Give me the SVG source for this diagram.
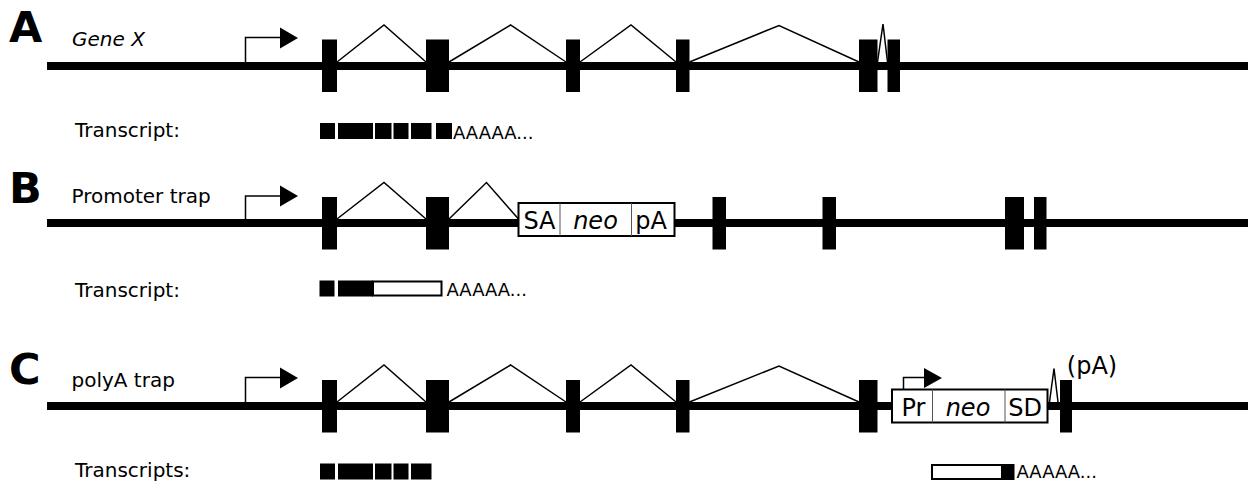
<svg xmlns="http://www.w3.org/2000/svg" width="1250" height="481" viewBox="0 0 1250 481">
  <style>
    .panel { font-family: "DejaVu Sans", "Liberation Sans", sans-serif; font-weight: bold; font-size: 43px; fill: #000; }
    .lbl { font-family: "DejaVu Sans", "Liberation Sans", sans-serif; font-size: 20px; fill: #000; }
    .it { font-style: italic; }
    .box { font-family: "DejaVu Sans", "Liberation Sans", sans-serif; font-size: 24px; fill: #000; text-anchor: middle; }
    .polyA { font-family: "DejaVu Sans", "Liberation Sans", sans-serif; font-size: 18px; fill: #000; }
    .dna { fill: #000; }
    .exon { fill: #000; }
    .intron { fill: none; stroke: #000; stroke-width: 1.5; stroke-linejoin: miter; }
    .prom { fill: none; stroke: #000; stroke-width: 1.5; }
    .cassette { fill: #fff; stroke: #000; stroke-width: 2; }
    .div { stroke: #555; stroke-width: 1; }
    .tx { fill: #000; }
    .txw { fill: #fff; stroke: #000; stroke-width: 2; }
  </style>

  <!-- Panel A: wild-type gene -->
  <g id="panelA">
    <text class="panel" x="9" y="41.5">A</text>
    <text class="lbl it" x="72" y="46">Gene X</text>
    <rect class="dna" x="47" y="62" width="1201" height="8"/>
    <g id="A-promoter">
      <path class="prom" d="M245.5 62 V37.5 H282"/>
      <polygon points="280,27.5 298,38 280,48.5"/>
    </g>
    <g id="A-exons">
      <rect class="exon" x="322" y="39.5" width="15" height="52.5"/>
      <rect class="exon" x="426" y="39.5" width="23" height="52.5"/>
      <rect class="exon" x="566" y="39.5" width="14" height="52.5"/>
      <rect class="exon" x="676" y="39.5" width="13.5" height="52.5"/>
      <rect class="exon" x="859" y="39.5" width="18.5" height="52.5"/>
      <rect class="exon" x="887.5" y="39.5" width="12.5" height="52.5"/>
    </g>
    <text class="lbl" x="75" y="137">Transcript:</text>
    <g id="A-transcript">
      <rect class="tx" x="320" y="123" width="15" height="16"/>
      <rect class="tx" x="338" y="123" width="35" height="16"/>
      <rect class="tx" x="375" y="123" width="16.5" height="16"/>
      <rect class="tx" x="393.5" y="123" width="15" height="16"/>
      <rect class="tx" x="411" y="123" width="20.5" height="16"/>
      <rect class="tx" x="436" y="123" width="16" height="16"/>
      <text class="polyA" x="453" y="139">AAAAA...</text>
    </g>
  </g>

  <!-- Panel B: promoter trap -->
  <g id="panelB">
    <text class="panel" x="9" y="202.5">B</text>
    <text class="lbl" x="71.5" y="203">Promoter trap</text>
    <rect class="dna" x="47" y="219" width="1201" height="8"/>
    <g id="B-promoter">
      <path class="prom" d="M245.5 219 V196 H282"/>
      <polygon points="280,185.5 298,196 280,206.5"/>
    </g>
    <g id="B-exons">
      <rect class="exon" x="322" y="197" width="15" height="52.5"/>
      <rect class="exon" x="426" y="197" width="23" height="52.5"/>
      <rect class="exon" x="712.5" y="197" width="13.5" height="52.5"/>
      <rect class="exon" x="822.5" y="197" width="13.5" height="52.5"/>
      <rect class="exon" x="1005" y="197" width="19" height="52.5"/>
      <rect class="exon" x="1034" y="197" width="12.5" height="52.5"/>
    </g>
    <g id="B-cassette">
      <rect class="cassette" x="518.5" y="203" width="156" height="33"/>
      <line class="div" x1="560" y1="203" x2="560" y2="236"/>
      <line class="div" x1="631.5" y1="203" x2="631.5" y2="236"/>
      <text class="box" x="539.5" y="228.5">SA</text>
      <text class="box it" x="595.5" y="228.5">neo</text>
      <text class="box" x="651" y="228.5">pA</text>
    </g>
    <text class="lbl" x="75" y="296.5">Transcript:</text>
    <g id="B-transcript">
      <rect class="tx" x="319.5" y="280.5" width="15" height="16"/>
      <rect class="tx" x="338" y="280.5" width="35" height="16"/>
      <rect class="txw" x="373" y="281.5" width="68.5" height="14"/>
      <text class="polyA" x="446.5" y="296">AAAAA...</text>
    </g>
  </g>

  <!-- Panel C: polyA trap -->
  <g id="panelC">
    <text class="panel" x="9" y="383.5">C</text>
    <text class="lbl" x="71.5" y="386.5">polyA trap</text>
    <rect class="dna" x="47" y="402" width="1201" height="8"/>
    <g id="C-promoter">
      <path class="prom" d="M245.5 402 V377.5 H282"/>
      <polygon points="280,367.5 298,378 280,388.5"/>
    </g>
    <g id="C-exons">
      <rect class="exon" x="322" y="380" width="15" height="52.5"/>
      <rect class="exon" x="426" y="380" width="23" height="52.5"/>
      <rect class="exon" x="566" y="380" width="14" height="52.5"/>
      <rect class="exon" x="676" y="380" width="13.5" height="52.5"/>
      <rect class="exon" x="859" y="380" width="18.5" height="52.5"/>
      <rect class="exon" x="1060" y="380" width="12" height="52.5"/>
    </g>
    <g id="C-cassette">
      <rect class="cassette" x="892" y="389.5" width="155.5" height="33"/>
      <line class="div" x1="932.5" y1="389.5" x2="932.5" y2="422.5"/>
      <line class="div" x1="1005" y1="389.5" x2="1005" y2="422.5"/>
      <text class="box" x="913.5" y="415.5">Pr</text>
      <text class="box it" x="968" y="415.5">neo</text>
      <text class="box" x="1025" y="415.5">SD</text>
      <path class="prom" d="M903.5 389.5 V377.5 H926"/>
      <polygon points="924,368 942,378 924,388"/>
    </g>
    <text class="box" x="1092" y="374">(pA)</text>
    <text class="lbl" x="75" y="476.5">Transcripts:</text>
    <g id="C-transcript1">
      <rect class="tx" x="320" y="463.5" width="15" height="16"/>
      <rect class="tx" x="338" y="463.5" width="35" height="16"/>
      <rect class="tx" x="375" y="463.5" width="16.5" height="16"/>
      <rect class="tx" x="393.5" y="463.5" width="15" height="16"/>
      <rect class="tx" x="411" y="463.5" width="20.5" height="16"/>
    </g>
    <g id="C-transcript2">
      <rect class="txw" x="932" y="465" width="70" height="14"/>
      <rect class="tx" x="1001.5" y="464" width="13" height="16"/>
      <text class="polyA" x="1016.5" y="478">AAAAA...</text>
    </g>
  </g>

  <!-- Splicing connectors (intron lines between exons) -->
  <g id="connectors">
    <polyline class="intron" points="337,62 384,25 426,62"/>
    <polyline class="intron" points="449,62 510.5,25 566,62"/>
    <polyline class="intron" points="580,62 631,25 676,62"/>
    <polyline class="intron" points="689.5,62 779,25.5 859,62"/>
    <polyline class="intron" points="877.5,62 883,24 887.5,62"/>

    <polyline class="intron" points="337,219 384,182.5 426,219"/>
    <polyline class="intron" points="449,219 486.5,182.5 518.5,219"/>

    <polyline class="intron" points="337,402 384,365 426,402"/>
    <polyline class="intron" points="449,402 510.5,365 566,402"/>
    <polyline class="intron" points="580,402 631,365 676,402"/>
    <polyline class="intron" points="689.5,402 779,366 859,402"/>
    <polyline class="intron" points="1049.5,402 1054,368.5 1058,402"/>
  </g>
</svg>
